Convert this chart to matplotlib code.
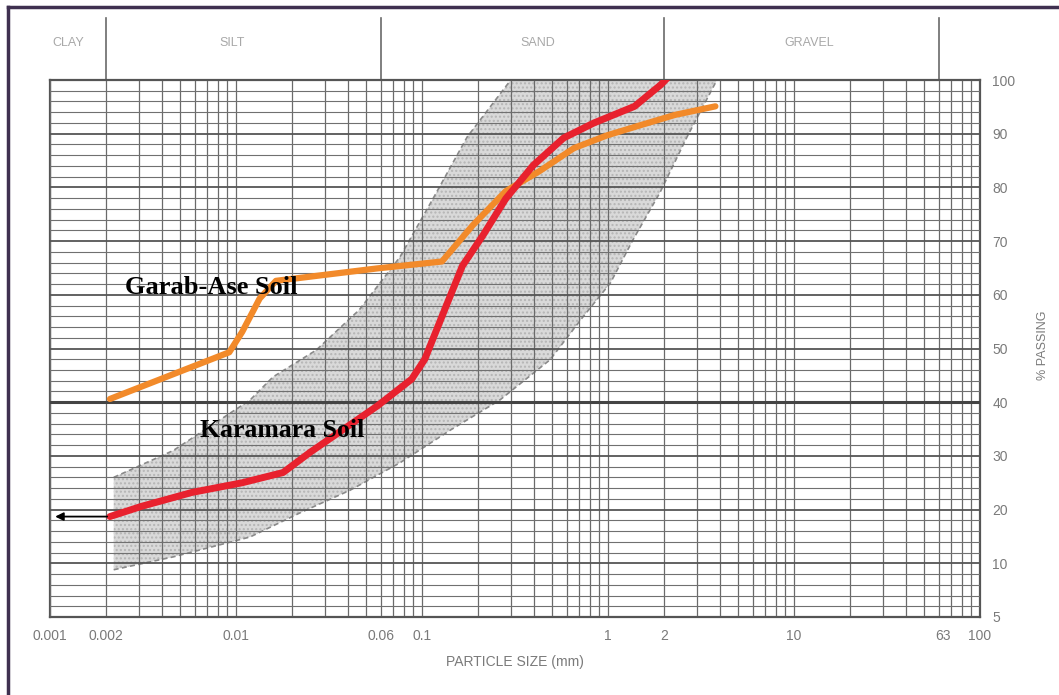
import matplotlib.pyplot as plt
from matplotlib.ticker import LogLocator, MultipleLocator, NullFormatter
from matplotlib.lines import Line2D
import matplotlib.transforms as mtransforms

# grading curves (particle size mm, % passing)
karamara_size = [0.0021, 0.0031, 0.0058, 0.0108, 0.0179, 0.0251, 0.038, 0.0575,
                 0.088, 0.1035, 0.133, 0.165, 0.212, 0.282, 0.396, 0.577, 0.84,
                 1.39, 1.92, 2.1]
karamara_pass = [18.7, 20.6, 23.2, 25.0, 26.9, 30.7, 35.0, 39.3,
                 44.3, 48.0, 57.4, 65.4, 71.0, 77.9, 84.1, 89.2, 92.0,
                 95.1, 99.1, 100.5]

garab_size = [0.0021, 0.0092, 0.0108, 0.0134, 0.0164, 0.057, 0.128, 0.187,
              0.282, 0.427, 0.655, 0.99, 1.50, 2.29, 3.78]
garab_pass = [40.6, 49.3, 53.1, 59.3, 62.6, 64.9, 66.2, 72.9,
              79.3, 83.0, 87.3, 89.7, 91.6, 93.5, 95.1]

# envelope (grey band)
env_upper_size = [0.0022, 0.0046, 0.0119, 0.0158, 0.027, 0.046, 0.076, 0.115,
                  0.175, 0.30]
env_upper_pass = [26.0, 31.0, 40.4, 44.7, 49.7, 57.2, 67.0, 78.0, 89.4, 100.0]
env_lower_size = [0.0022, 0.0046, 0.0119, 0.0221, 0.041, 0.076, 0.142, 0.262,
                  0.488, 0.734, 1.03, 1.36, 1.90, 2.66, 3.85]
env_lower_pass = [8.8, 11.2, 14.9, 19.4, 23.6, 28.7, 34.8, 40.4,
                  47.9, 55.9, 62.2, 70.2, 79.0, 89.4, 100.0]

x_tick_pos = [0.001, 0.002, 0.01, 0.06, 0.1, 1, 2, 10, 63, 100]
x_tick_lab = ['0.001', '0.002', '0.01', '0.06', '0.1', '1', '2', '10', '63', '100']
y_tick_pos = [0, 10, 20, 30, 40, 50, 60, 70, 80, 90, 100]
y_tick_lab = ['5', '10', '20', '30', '40', '50', '60', '70', '80', '90', '100']

zone_bounds = [0.002, 0.06, 2, 60]
zone_names = ['CLAY', 'SILT', 'SAND', 'GRAVEL']
zone_centers = [0.00125, 0.0095, 0.42, 12]

W, H = 1059, 695
fig = plt.figure(figsize=(W / 100, H / 100), dpi=100)
fig.patch.set_facecolor('white')
ax = fig.add_axes([50 / W, 1 - 617 / H, 930 / W, 537 / H])

ax.set_xscale('log')
ax.set_xlim(0.001, 100)
ax.set_ylim(0, 100)

# grid
ax.xaxis.set_minor_locator(LogLocator(base=10, subs=range(1, 10), numticks=20))
ax.xaxis.set_minor_formatter(NullFormatter())
ax.xaxis.remove_overlapping_locs = False
ax.yaxis.set_minor_locator(MultipleLocator(2))
ax.set_xticks(x_tick_pos)
ax.set_xticklabels(x_tick_lab)
ax.set_yticks(y_tick_pos)
ax.set_yticklabels(y_tick_lab)
ax.grid(which='minor', axis='x', color='#6a6a6a', lw=0.9)
ax.grid(which='minor', axis='y', color='#707070', lw=0.8)
ax.grid(which='major', axis='y', color='#555555', lw=1.3)
ax.axhline(40, color='#444444', lw=2.2, zorder=2.6)
ax.set_axisbelow(False)

ax.yaxis.tick_right()
ax.tick_params(which='both', length=0)
ax.tick_params(axis='x', pad=9, labelsize=10, labelcolor='#7a7a7a')
ax.tick_params(axis='y', pad=9, labelsize=10, labelcolor='#7a7a7a')
for lab in ax.get_xticklabels() + ax.get_yticklabels():
    lab.set_family('Liberation Sans')
for s in ax.spines.values():
    s.set_color('#555555')
    s.set_linewidth(1.6)

# envelope band
poly_x = env_upper_size + env_lower_size[::-1]
poly_y = env_upper_pass + env_lower_pass[::-1]
ax.fill(poly_x, poly_y, facecolor='#d9d9d9', edgecolor='#b5b5b5', lw=0,
        hatch='....', zorder=1)
ax.plot(env_upper_size, env_upper_pass, color='#8a8a8a', lw=1.2, ls=(0, (3, 2)), zorder=2)
ax.plot(env_lower_size, env_lower_pass, color='#8a8a8a', lw=1.2, ls=(0, (3, 2)), zorder=2)

# grading curves
ax.plot(garab_size, garab_pass, color='#f28a2a', lw=4.5, solid_capstyle='round',
        solid_joinstyle='round', zorder=3)
ax.plot(karamara_size, karamara_pass, color='#e8212e', lw=5, solid_capstyle='round',
        solid_joinstyle='round', zorder=4)

ax.annotate('', xy=(0.00103, karamara_pass[0]), xytext=(karamara_size[0], karamara_pass[0]),
            arrowprops=dict(arrowstyle='-|>', color='black', lw=1.3, mutation_scale=12),
            zorder=5)

ax.text(0.0074, 61.3, 'Garab-Ase Soil', family='Liberation Serif', weight='bold',
        fontsize=19, ha='center', va='center', zorder=6)
ax.text(0.0178, 34.8, 'Karamara Soil', family='Liberation Serif', weight='bold',
        fontsize=18.5, ha='center', va='center', zorder=6)

# header with soil classes
trans = mtransforms.blended_transform_factory(ax.transData, ax.transAxes)
for b in zone_bounds:
    ax.plot([b, b], [1.0, 1.115], transform=trans, color='#6a6a6a', lw=1.2, clip_on=False)
for name, c in zip(zone_names, zone_centers):
    ax.text(c, 1.068, name, transform=trans, ha='center', va='center',
            fontsize=9, color='#a8a8a8', family='Liberation Sans')

fig.text(515 / W, 1 - 662 / H, 'PARTICLE SIZE (mm)', ha='center', va='center',
         fontsize=10, color='#7a7a7a', family='Liberation Sans')
fig.text(1043 / W, 1 - 345 / H, '% PASSING', ha='center', va='center', rotation=90,
         fontsize=9, color='#7a7a7a', family='Liberation Sans')

# frame of the scanned figure
fig.add_artist(Line2D([8 / W, 1], [1 - 7 / H, 1 - 7 / H], color='#3f3050', lw=2.5))
fig.add_artist(Line2D([8 / W, 8 / W], [0, 1 - 7 / H], color='#3f3050', lw=2.5))

fig.savefig('out.png', dpi=100)
